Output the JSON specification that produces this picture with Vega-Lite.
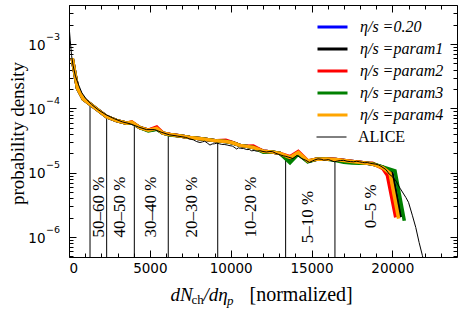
{
"$schema": "https://vega.github.io/schema/vega-lite/v6.json",
"width": 388, "height": 252,
"autosize": {"type": "none"},
"padding": {"left": 69, "top": 5, "right": 6, "bottom": 58},
"config": {
  "view": {"stroke": "black", "strokeWidth": 1},
  "axis": {"grid": false, "domain": false, "tickColor": "black", "tickWidth": 1, "labelColor": "black", "titleColor": "black", "labelFont": "DejaVu Sans", "labelFontSize": 13.5, "titleFont": "Liberation Serif", "titleFontWeight": "normal", "labelOverlap": false},
  "legend": {"labelFont": "Liberation Serif", "labelColor": "black"}
},
"datasets": {
  "cent": [
    {"x": 1300, "y": 1.17e-4}, {"x": 2330, "y": 7.45e-5}, {"x": 4040, "y": 5.6e-5}, {"x": 6140, "y": 3.95e-5},
    {"x": 9200, "y": 3.05e-5}, {"x": 13400, "y": 1.82e-5}, {"x": 16450, "y": 1.5e-5}
  ],
  "labels": [
    {"t": "50–60 %", "x": 1830, "y": 2.92e-6}, {"t": "40–50 %", "x": 3150, "y": 2.92e-6},
    {"t": "30–40 %", "x": 5050, "y": 2.92e-6}, {"t": "20–30 %", "x": 7620, "y": 2.92e-6},
    {"t": "10–20 %", "x": 11240, "y": 2.92e-6}, {"t": "5–10 %", "x": 14800, "y": 2.05e-6},
    {"t": "0–5 %", "x": 18660, "y": 3.02e-6}
  ],
  "models": [
    {"s":"0.20","x":200,"y":6.03e-4},{"s":"0.20","x":525,"y":2.07e-4},{"s":"0.20","x":885,"y":1.40e-4},{"s":"0.20","x":1300,"y":1.17e-4},{"s":"0.20","x":1713,"y":9.77e-5},{"s":"0.20","x":2330,"y":7.45e-5},{"s":"0.20","x":2950,"y":6.46e-5},{"s":"0.20","x":3570,"y":5.90e-5},{"s":"0.20","x":3880,"y":6.00e-5},{"s":"0.20","x":4390,"y":5.01e-5},{"s":"0.20","x":4905,"y":4.60e-5},{"s":"0.20","x":5425,"y":4.80e-5},{"s":"0.20","x":5815,"y":4.13e-5},{"s":"0.20","x":6250,"y":3.92e-5},{"s":"0.20","x":6900,"y":3.72e-5},{"s":"0.20","x":7480,"y":3.54e-5},{"s":"0.20","x":8300,"y":3.35e-5},{"s":"0.20","x":9135,"y":3.13e-5},{"s":"0.20","x":9700,"y":3.05e-5},{"s":"0.20","x":10100,"y":2.92e-5},{"s":"0.20","x":10575,"y":2.66e-5},{"s":"0.20","x":11000,"y":2.57e-5},{"s":"0.20","x":11400,"y":2.47e-5},{"s":"0.20","x":12020,"y":2.16e-5},{"s":"0.20","x":12500,"y":2.11e-5},{"s":"0.20","x":13050,"y":2.00e-5},{"s":"0.20","x":13670,"y":1.51e-5},{"s":"0.20","x":14180,"y":2.00e-5},{"s":"0.20","x":14765,"y":1.50e-5},{"s":"0.20","x":15300,"y":1.62e-5},{"s":"0.20","x":15900,"y":1.63e-5},{"s":"0.20","x":16500,"y":1.60e-5},{"s":"0.20","x":17000,"y":1.55e-5},{"s":"0.20","x":17500,"y":1.50e-5},{"s":"0.20","x":17955,"y":1.45e-5},{"s":"0.20","x":18400,"y":1.41e-5},{"s":"0.20","x":18776,"y":1.36e-5},{"s":"0.20","x":19400,"y":1.22e-5},{"s":"0.20","x":19960,"y":1.01e-5},{"s":"0.20","x":20520,"y":2.04e-6},
    {"s":"param1","x":200,"y":6.03e-4},{"s":"param1","x":525,"y":2.07e-4},{"s":"param1","x":885,"y":1.40e-4},{"s":"param1","x":1300,"y":1.17e-4},{"s":"param1","x":1713,"y":9.77e-5},{"s":"param1","x":2330,"y":7.45e-5},{"s":"param1","x":2950,"y":6.46e-5},{"s":"param1","x":3570,"y":5.90e-5},{"s":"param1","x":3880,"y":6.00e-5},{"s":"param1","x":4390,"y":5.01e-5},{"s":"param1","x":4905,"y":4.60e-5},{"s":"param1","x":5425,"y":4.80e-5},{"s":"param1","x":5815,"y":4.13e-5},{"s":"param1","x":6250,"y":3.92e-5},{"s":"param1","x":6900,"y":3.72e-5},{"s":"param1","x":7480,"y":3.54e-5},{"s":"param1","x":8300,"y":3.35e-5},{"s":"param1","x":9135,"y":3.13e-5},{"s":"param1","x":9700,"y":3.05e-5},{"s":"param1","x":10100,"y":2.92e-5},{"s":"param1","x":10575,"y":2.66e-5},{"s":"param1","x":11000,"y":2.57e-5},{"s":"param1","x":11400,"y":2.47e-5},{"s":"param1","x":12020,"y":2.16e-5},{"s":"param1","x":12500,"y":2.11e-5},{"s":"param1","x":13050,"y":2.00e-5},{"s":"param1","x":13670,"y":1.51e-5},{"s":"param1","x":14180,"y":2.00e-5},{"s":"param1","x":14765,"y":1.50e-5},{"s":"param1","x":15300,"y":1.62e-5},{"s":"param1","x":15900,"y":1.63e-5},{"s":"param1","x":16500,"y":1.60e-5},{"s":"param1","x":17000,"y":1.55e-5},{"s":"param1","x":17500,"y":1.50e-5},{"s":"param1","x":17955,"y":1.45e-5},{"s":"param1","x":18400,"y":1.41e-5},{"s":"param1","x":18776,"y":1.36e-5},{"s":"param1","x":19400,"y":1.22e-5},{"s":"param1","x":19960,"y":1.01e-5},{"s":"param1","x":20520,"y":2.04e-6},
    {"s":"param2","x":200,"y":6.03e-4},{"s":"param2","x":525,"y":2.07e-4},{"s":"param2","x":885,"y":1.40e-4},{"s":"param2","x":1300,"y":1.17e-4},{"s":"param2","x":1713,"y":9.77e-5},{"s":"param2","x":2330,"y":7.45e-5},{"s":"param2","x":2950,"y":6.46e-5},{"s":"param2","x":3570,"y":5.90e-5},{"s":"param2","x":3880,"y":6.17e-5},{"s":"param2","x":4390,"y":5.01e-5},{"s":"param2","x":4905,"y":4.60e-5},{"s":"param2","x":5425,"y":5.13e-5},{"s":"param2","x":5815,"y":4.13e-5},{"s":"param2","x":6250,"y":3.92e-5},{"s":"param2","x":6900,"y":3.72e-5},{"s":"param2","x":7480,"y":3.54e-5},{"s":"param2","x":8300,"y":3.35e-5},{"s":"param2","x":9135,"y":3.13e-5},{"s":"param2","x":9700,"y":3.20e-5},{"s":"param2","x":10100,"y":2.95e-5},{"s":"param2","x":10575,"y":2.66e-5},{"s":"param2","x":11000,"y":2.57e-5},{"s":"param2","x":11400,"y":2.60e-5},{"s":"param2","x":12020,"y":2.16e-5},{"s":"param2","x":12500,"y":2.11e-5},{"s":"param2","x":13050,"y":2.00e-5},{"s":"param2","x":13670,"y":1.78e-5},{"s":"param2","x":14180,"y":2.14e-5},{"s":"param2","x":14765,"y":1.53e-5},{"s":"param2","x":15300,"y":1.62e-5},{"s":"param2","x":15900,"y":1.63e-5},{"s":"param2","x":16500,"y":1.60e-5},{"s":"param2","x":17000,"y":1.55e-5},{"s":"param2","x":17500,"y":1.50e-5},{"s":"param2","x":17955,"y":1.45e-5},{"s":"param2","x":18400,"y":1.41e-5},{"s":"param2","x":18776,"y":1.41e-5},{"s":"param2","x":19400,"y":1.17e-5},{"s":"param2","x":19690,"y":9.18e-6},{"s":"param2","x":20210,"y":2.02e-6},
    {"s":"param3","x":200,"y":6.03e-4},{"s":"param3","x":525,"y":2.07e-4},{"s":"param3","x":885,"y":1.40e-4},{"s":"param3","x":1300,"y":1.17e-4},{"s":"param3","x":1713,"y":9.77e-5},{"s":"param3","x":2330,"y":7.45e-5},{"s":"param3","x":2950,"y":6.46e-5},{"s":"param3","x":3570,"y":5.90e-5},{"s":"param3","x":3880,"y":6.05e-5},{"s":"param3","x":4390,"y":5.01e-5},{"s":"param3","x":4905,"y":4.47e-5},{"s":"param3","x":5425,"y":4.75e-5},{"s":"param3","x":5815,"y":4.13e-5},{"s":"param3","x":6250,"y":3.85e-5},{"s":"param3","x":6900,"y":3.72e-5},{"s":"param3","x":7480,"y":3.54e-5},{"s":"param3","x":8300,"y":3.35e-5},{"s":"param3","x":9135,"y":3.13e-5},{"s":"param3","x":9700,"y":3.05e-5},{"s":"param3","x":10100,"y":2.92e-5},{"s":"param3","x":10575,"y":2.66e-5},{"s":"param3","x":11000,"y":2.57e-5},{"s":"param3","x":11400,"y":2.47e-5},{"s":"param3","x":12020,"y":2.09e-5},{"s":"param3","x":12500,"y":2.11e-5},{"s":"param3","x":13050,"y":2.00e-5},{"s":"param3","x":13670,"y":1.43e-5},{"s":"param3","x":14180,"y":1.95e-5},{"s":"param3","x":14765,"y":1.48e-5},{"s":"param3","x":15300,"y":1.62e-5},{"s":"param3","x":15900,"y":1.63e-5},{"s":"param3","x":16500,"y":1.55e-5},{"s":"param3","x":17000,"y":1.45e-5},{"s":"param3","x":17500,"y":1.42e-5},{"s":"param3","x":17955,"y":1.40e-5},{"s":"param3","x":18400,"y":1.40e-5},{"s":"param3","x":18776,"y":1.38e-5},{"s":"param3","x":19400,"y":1.23e-5},{"s":"param3","x":20165,"y":1.07e-5},{"s":"param3","x":20740,"y":1.79e-6},
    {"s":"param4","x":200,"y":6.03e-4},{"s":"param4","x":525,"y":2.07e-4},{"s":"param4","x":885,"y":1.40e-4},{"s":"param4","x":1300,"y":1.17e-4},{"s":"param4","x":1713,"y":9.77e-5},{"s":"param4","x":2330,"y":7.45e-5},{"s":"param4","x":2950,"y":6.46e-5},{"s":"param4","x":3570,"y":5.90e-5},{"s":"param4","x":3880,"y":6.10e-5},{"s":"param4","x":4390,"y":5.01e-5},{"s":"param4","x":4905,"y":4.60e-5},{"s":"param4","x":5425,"y":4.90e-5},{"s":"param4","x":5815,"y":4.13e-5},{"s":"param4","x":6250,"y":3.92e-5},{"s":"param4","x":6900,"y":3.72e-5},{"s":"param4","x":7480,"y":3.54e-5},{"s":"param4","x":8300,"y":3.35e-5},{"s":"param4","x":9135,"y":3.13e-5},{"s":"param4","x":9700,"y":3.05e-5},{"s":"param4","x":10100,"y":2.92e-5},{"s":"param4","x":10575,"y":2.66e-5},{"s":"param4","x":11000,"y":2.57e-5},{"s":"param4","x":11400,"y":2.47e-5},{"s":"param4","x":12020,"y":2.16e-5},{"s":"param4","x":12500,"y":2.11e-5},{"s":"param4","x":13050,"y":2.00e-5},{"s":"param4","x":13670,"y":1.73e-5},{"s":"param4","x":14180,"y":2.07e-5},{"s":"param4","x":14765,"y":1.53e-5},{"s":"param4","x":15300,"y":1.62e-5},{"s":"param4","x":15900,"y":1.63e-5},{"s":"param4","x":16500,"y":1.60e-5},{"s":"param4","x":17000,"y":1.55e-5},{"s":"param4","x":17500,"y":1.50e-5},{"s":"param4","x":17955,"y":1.45e-5},{"s":"param4","x":18400,"y":1.41e-5},{"s":"param4","x":18776,"y":1.36e-5},{"s":"param4","x":19400,"y":1.20e-5},{"s":"param4","x":19855,"y":9.86e-6},{"s":"param4","x":20390,"y":1.93e-6}
  ],
  "alice": [
    {"s":"ALICE","x":20,"y":1.70e-3},{"s":"ALICE","x":80,"y":1.12e-3},{"s":"ALICE","x":160,"y":6.61e-4},{"s":"ALICE","x":250,"y":4.68e-4},{"s":"ALICE","x":400,"y":3.16e-4},{"s":"ALICE","x":576,"y":2.39e-4},{"s":"ALICE","x":800,"y":1.74e-4},{"s":"ALICE","x":1090,"y":1.38e-4},{"s":"ALICE","x":1400,"y":1.15e-4},{"s":"ALICE","x":1800,"y":9.55e-5},{"s":"ALICE","x":2300,"y":7.94e-5},{"s":"ALICE","x":2800,"y":6.92e-5},{"s":"ALICE","x":3300,"y":6.17e-5},{"s":"ALICE","x":3800,"y":5.75e-5},{"s":"ALICE","x":4300,"y":5.13e-5},{"s":"ALICE","x":4800,"y":4.68e-5},{"s":"ALICE","x":5300,"y":4.68e-5},{"s":"ALICE","x":5700,"y":4.27e-5},{"s":"ALICE","x":6200,"y":3.89e-5},{"s":"ALICE","x":6700,"y":3.72e-5},{"s":"ALICE","x":7200,"y":3.55e-5},{"s":"ALICE","x":7450,"y":3.38e-5},{"s":"ALICE","x":7700,"y":3.24e-5},{"s":"ALICE","x":7900,"y":3.05e-5},{"s":"ALICE","x":8100,"y":2.95e-5},{"s":"ALICE","x":8250,"y":3.02e-5},{"s":"ALICE","x":8400,"y":3.09e-5},{"s":"ALICE","x":8550,"y":2.90e-5},{"s":"ALICE","x":8720,"y":2.69e-5},{"s":"ALICE","x":8850,"y":2.80e-5},{"s":"ALICE","x":9000,"y":2.82e-5},{"s":"ALICE","x":9150,"y":2.88e-5},{"s":"ALICE","x":9300,"y":2.82e-5},{"s":"ALICE","x":9450,"y":2.76e-5},{"s":"ALICE","x":9600,"y":2.75e-5},{"s":"ALICE","x":9780,"y":2.70e-5},{"s":"ALICE","x":9960,"y":2.63e-5},{"s":"ALICE","x":10100,"y":2.60e-5},{"s":"ALICE","x":10200,"y":2.51e-5},{"s":"ALICE","x":10370,"y":2.34e-5},{"s":"ALICE","x":10480,"y":2.44e-5},{"s":"ALICE","x":10600,"y":2.40e-5},{"s":"ALICE","x":10800,"y":2.38e-5},{"s":"ALICE","x":11000,"y":2.29e-5},{"s":"ALICE","x":11150,"y":2.30e-5},{"s":"ALICE","x":11300,"y":2.19e-5},{"s":"ALICE","x":11450,"y":2.22e-5},{"s":"ALICE","x":11610,"y":2.16e-5},{"s":"ALICE","x":11800,"y":2.20e-5},{"s":"ALICE","x":12000,"y":2.14e-5},{"s":"ALICE","x":12200,"y":2.10e-5},{"s":"ALICE","x":12430,"y":2.14e-5},{"s":"ALICE","x":12600,"y":2.12e-5},{"s":"ALICE","x":12800,"y":2.00e-5},{"s":"ALICE","x":13050,"y":1.90e-5},{"s":"ALICE","x":13255,"y":1.83e-5},{"s":"ALICE","x":13400,"y":1.80e-5},{"s":"ALICE","x":13600,"y":1.74e-5},{"s":"ALICE","x":13850,"y":1.66e-5},{"s":"ALICE","x":14100,"y":1.86e-5},{"s":"ALICE","x":14250,"y":1.75e-5},{"s":"ALICE","x":14400,"y":1.66e-5},{"s":"ALICE","x":14650,"y":1.56e-5},{"s":"ALICE","x":14870,"y":1.45e-5},{"s":"ALICE","x":15050,"y":1.52e-5},{"s":"ALICE","x":15200,"y":1.58e-5},{"s":"ALICE","x":15400,"y":1.64e-5},{"s":"ALICE","x":15600,"y":1.62e-5},{"s":"ALICE","x":15750,"y":1.57e-5},{"s":"ALICE","x":15900,"y":1.58e-5},{"s":"ALICE","x":16050,"y":1.60e-5},{"s":"ALICE","x":16200,"y":1.55e-5},{"s":"ALICE","x":16412,"y":1.48e-5},{"s":"ALICE","x":16600,"y":1.52e-5},{"s":"ALICE","x":16800,"y":1.55e-5},{"s":"ALICE","x":17000,"y":1.56e-5},{"s":"ALICE","x":17200,"y":1.51e-5},{"s":"ALICE","x":17400,"y":1.49e-5},{"s":"ALICE","x":17600,"y":1.48e-5},{"s":"ALICE","x":17800,"y":1.51e-5},{"s":"ALICE","x":17955,"y":1.48e-5},{"s":"ALICE","x":18150,"y":1.45e-5},{"s":"ALICE","x":18300,"y":1.43e-5},{"s":"ALICE","x":18450,"y":1.44e-5},{"s":"ALICE","x":18600,"y":1.41e-5},{"s":"ALICE","x":18800,"y":1.38e-5},{"s":"ALICE","x":18982,"y":1.36e-5},{"s":"ALICE","x":19150,"y":1.32e-5},{"s":"ALICE","x":19300,"y":1.26e-5},{"s":"ALICE","x":19600,"y":1.12e-5},{"s":"ALICE","x":19805,"y":9.55e-6},{"s":"ALICE","x":20000,"y":8.71e-6},{"s":"ALICE","x":20219,"y":7.48e-6},{"s":"ALICE","x":20500,"y":5.62e-6},{"s":"ALICE","x":20836,"y":4.13e-6},{"s":"ALICE","x":21000,"y":3.47e-6},{"s":"ALICE","x":21247,"y":2.14e-6},{"s":"ALICE","x":21450,"y":1.41e-6},{"s":"ALICE","x":21657,"y":8.24e-7},{"s":"ALICE","x":21863,"y":5.13e-7},{"s":"ALICE","x":21950,"y":3.98e-7}
  ]
},
"layer": [
  {
    "data": {"name": "cent"},
    "mark": {"type": "rule", "color": "black", "strokeWidth": 1},
    "encoding": {
      "x": {"field": "x", "type": "quantitative", "scale": {"domain": [0, 24000], "nice": false, "zero": false},
        "axis": {"orient": "bottom", "values": [0, 5000, 10000, 15000, 20000], "format": "d", "tickSize": -7, "labelPadding": 11,
          "title": "dN", "titleFontSize": 19, "titleFontStyle": "italic", "titleX": 101, "titleY": 43, "titleAlign": "left", "titleBaseline": "alphabetic", "titleAngle": 0}},
      "y": {"field": "y", "type": "quantitative", "scale": {"type": "log", "domain": [4.9e-7, 4.05e-3], "nice": false},
        "axis": {"orient": "left", "values": [1e-6, 1e-5, 1e-4, 1e-3], "tickSize": -7, "labelPadding": 31, "labelOffset": 1,
          "labelExpr": "'10'",
          "title": "probability density", "titleFontSize": 19, "titleAngle": 270, "titleX": -52, "titleY": 128, "titleAlign": "center", "titleBaseline": "middle"}},
      "y2": {"datum": 4.9e-7}
    }
  },
  {
    "data": {"name": "labels"},
    "mark": {"type": "text", "angle": 270, "font": "Liberation Serif", "fontSize": 17, "align": "center", "baseline": "middle", "color": "black"},
    "encoding": {
      "x": {"field": "x", "type": "quantitative", "scale": {"domain": [0, 24000], "nice": false, "zero": false},
        "axis": {"orient": "bottom", "values": [1000,2000,3000,4000,6000,7000,8000,9000,11000,12000,13000,14000,16000,17000,18000,19000,21000,22000,23000], "tickSize": -4, "labels": false,
          "title": "ch", "titleFontSize": 13, "titleX": 122, "titleY": 46, "titleAlign": "left", "titleBaseline": "alphabetic", "titleAngle": 0}},
      "y": {"field": "y", "type": "quantitative", "scale": {"type": "log", "domain": [4.9e-7, 4.05e-3], "nice": false},
        "axis": {"orient": "left", "values": [5e-7,6e-7,7e-7,8e-7,9e-7,1e-6,2e-6,3e-6,4e-6,5e-6,6e-6,7e-6,8e-6,9e-6,1e-5,2e-5,3e-5,4e-5,5e-5,6e-5,7e-5,8e-5,9e-5,1e-4,2e-4,3e-4,4e-4,5e-4,6e-4,7e-4,8e-4,9e-4,1e-3,2e-3,3e-3,4e-3], "tickSize": -4,
          "labelExpr": "abs(datum.value - 1e-6) < 1e-9 ? '−6' : abs(datum.value - 1e-5) < 1e-8 ? '−5' : abs(datum.value - 1e-4) < 1e-7 ? '−4' : abs(datum.value - 1e-3) < 1e-6 ? '−3' : ''",
          "labelFontSize": 9.5, "labelAlign": "left", "labelPadding": 27.5, "labelOffset": -8, "title": null}},
      "text": {"field": "t", "type": "nominal"}
    }
  },
  {
    "data": {"name": "models"},
    "mark": {"type": "line", "strokeWidth": 3.5, "clip": true},
    "encoding": {
      "x": {"field": "x", "type": "quantitative", "scale": {"domain": [0, 24000], "nice": false, "zero": false},
        "axis": {"orient": "top", "values": [0, 5000, 10000, 15000, 20000], "tickSize": -7, "labels": false,
          "title": "/dη", "titleFontSize": 19, "titleFontStyle": "italic", "titleX": 134, "titleY": 295, "titleAlign": "left", "titleBaseline": "alphabetic", "titleAngle": 0}},
      "y": {"field": "y", "type": "quantitative", "scale": {"type": "log", "domain": [4.9e-7, 4.05e-3], "nice": false},
        "axis": {"orient": "right", "values": [1e-6, 1e-5, 1e-4, 1e-3], "tickSize": -7, "labels": false,
          "title": "[normalized]", "titleFontSize": 20, "titleX": -208, "titleY": 295, "titleAlign": "left", "titleBaseline": "alphabetic", "titleAngle": 0}},
      "color": {"field": "s", "type": "nominal",
        "scale": {"domain": ["0.20", "param1", "param2", "param3", "param4"], "range": ["#0000ff", "#000000", "#ff0000", "#008000", "#ffa500"]},
        "legend": {"orient": "none", "legendX": 247, "legendY": 12, "title": null, "symbolType": "stroke", "symbolSize": 900, "symbolStrokeWidth": 3, "clipHeight": 20,
          "labelFont": "Liberation Serif", "labelFontSize": 16, "labelFontStyle": "italic", "labelColor": "black", "labelOffset": 11, "rowPadding": 2,
          "labelExpr": "'η/s =' + datum.label"}}
    }
  },
  {
    "data": {"name": "alice"},
    "mark": {"type": "line", "strokeWidth": 1, "clip": true},
    "encoding": {
      "x": {"field": "x", "type": "quantitative", "scale": {"domain": [0, 24000], "nice": false, "zero": false},
        "axis": {"orient": "top", "values": [1000,2000,3000,4000,6000,7000,8000,9000,11000,12000,13000,14000,16000,17000,18000,19000,21000,22000,23000], "tickSize": -4, "labels": false,
          "title": "p", "titleFontSize": 13, "titleFontStyle": "italic", "titleX": 157.5, "titleY": 299, "titleAlign": "left", "titleBaseline": "alphabetic", "titleAngle": 0}},
      "y": {"field": "y", "type": "quantitative", "scale": {"type": "log", "domain": [4.9e-7, 4.05e-3], "nice": false},
        "axis": {"orient": "right", "values": [5e-7,6e-7,7e-7,8e-7,9e-7,2e-6,3e-6,4e-6,5e-6,6e-6,7e-6,8e-6,9e-6,2e-5,3e-5,4e-5,5e-5,6e-5,7e-5,8e-5,9e-5,2e-4,3e-4,4e-4,5e-4,6e-4,7e-4,8e-4,9e-4,2e-3,3e-3,4e-3], "tickSize": -4, "labels": false, "title": null}},
      "color": {"field": "s", "type": "nominal",
        "scale": {"domain": ["ALICE"], "range": ["#000000"]},
        "legend": {"orient": "none", "legendX": 247, "legendY": 122, "title": null, "symbolType": "stroke", "symbolSize": 900, "symbolStrokeWidth": 1, "clipHeight": 20,
          "labelFont": "Liberation Serif", "labelFontSize": 16, "labelColor": "black", "labelOffset": 11}}
    }
  }
],
"resolve": {"axis": {"x": "independent", "y": "independent"}, "scale": {"color": "independent"}}
}
